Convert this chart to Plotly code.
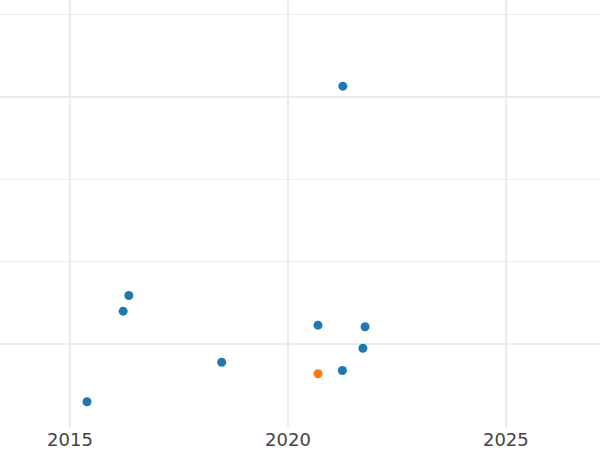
import plotly.graph_objects as go

blue_x = [2021.26, 2016.35, 2016.22, 2018.48, 2015.39, 2020.69, 2021.77, 2021.72, 2021.25]
blue_y = [3.13, 0.59, 0.40, -0.22, -0.70, 0.23, 0.21, -0.05, -0.32]
orange_x = [2020.69]
orange_y = [-0.36]
x_ticks = [2015, 2020, 2025]

fig = go.Figure()
fig.add_trace(go.Scatter(x=blue_x, y=blue_y, mode="markers",
                         marker=dict(color="#1f77b4", size=9), showlegend=False))
fig.add_trace(go.Scatter(x=orange_x, y=orange_y, mode="markers",
                         marker=dict(color="#ff7f0e", size=9), showlegend=False))

fig.update_layout(
    width=600, height=450,
    margin=dict(l=0, r=0, t=0, b=23),
    plot_bgcolor="white", paper_bgcolor="white",
    font=dict(family="DejaVu Sans", size=18, color="#444"),
    xaxis=dict(range=[2013.394, 2027.16], tickvals=x_ticks,
               ticktext=[str(v) for v in x_ticks],
               showgrid=True, gridcolor="#ebebeb", gridwidth=2,
               zeroline=False, showline=False, ticks="", automargin=False),
    yaxis=dict(range=[-1.006, 4.176], tick0=0, dtick=3,
               showticklabels=False, showgrid=True, gridcolor="#ebebeb", gridwidth=2,
               zeroline=False, showline=False, ticks="", automargin=False,
               minor=dict(dtick=1, showgrid=True, gridcolor="#ebebeb", gridwidth=1)),
)
fig.write_html("out.html", config={"displayModeBar": False},
               post_script="document.body.style.margin='0';document.body.style.overflow='hidden';")
